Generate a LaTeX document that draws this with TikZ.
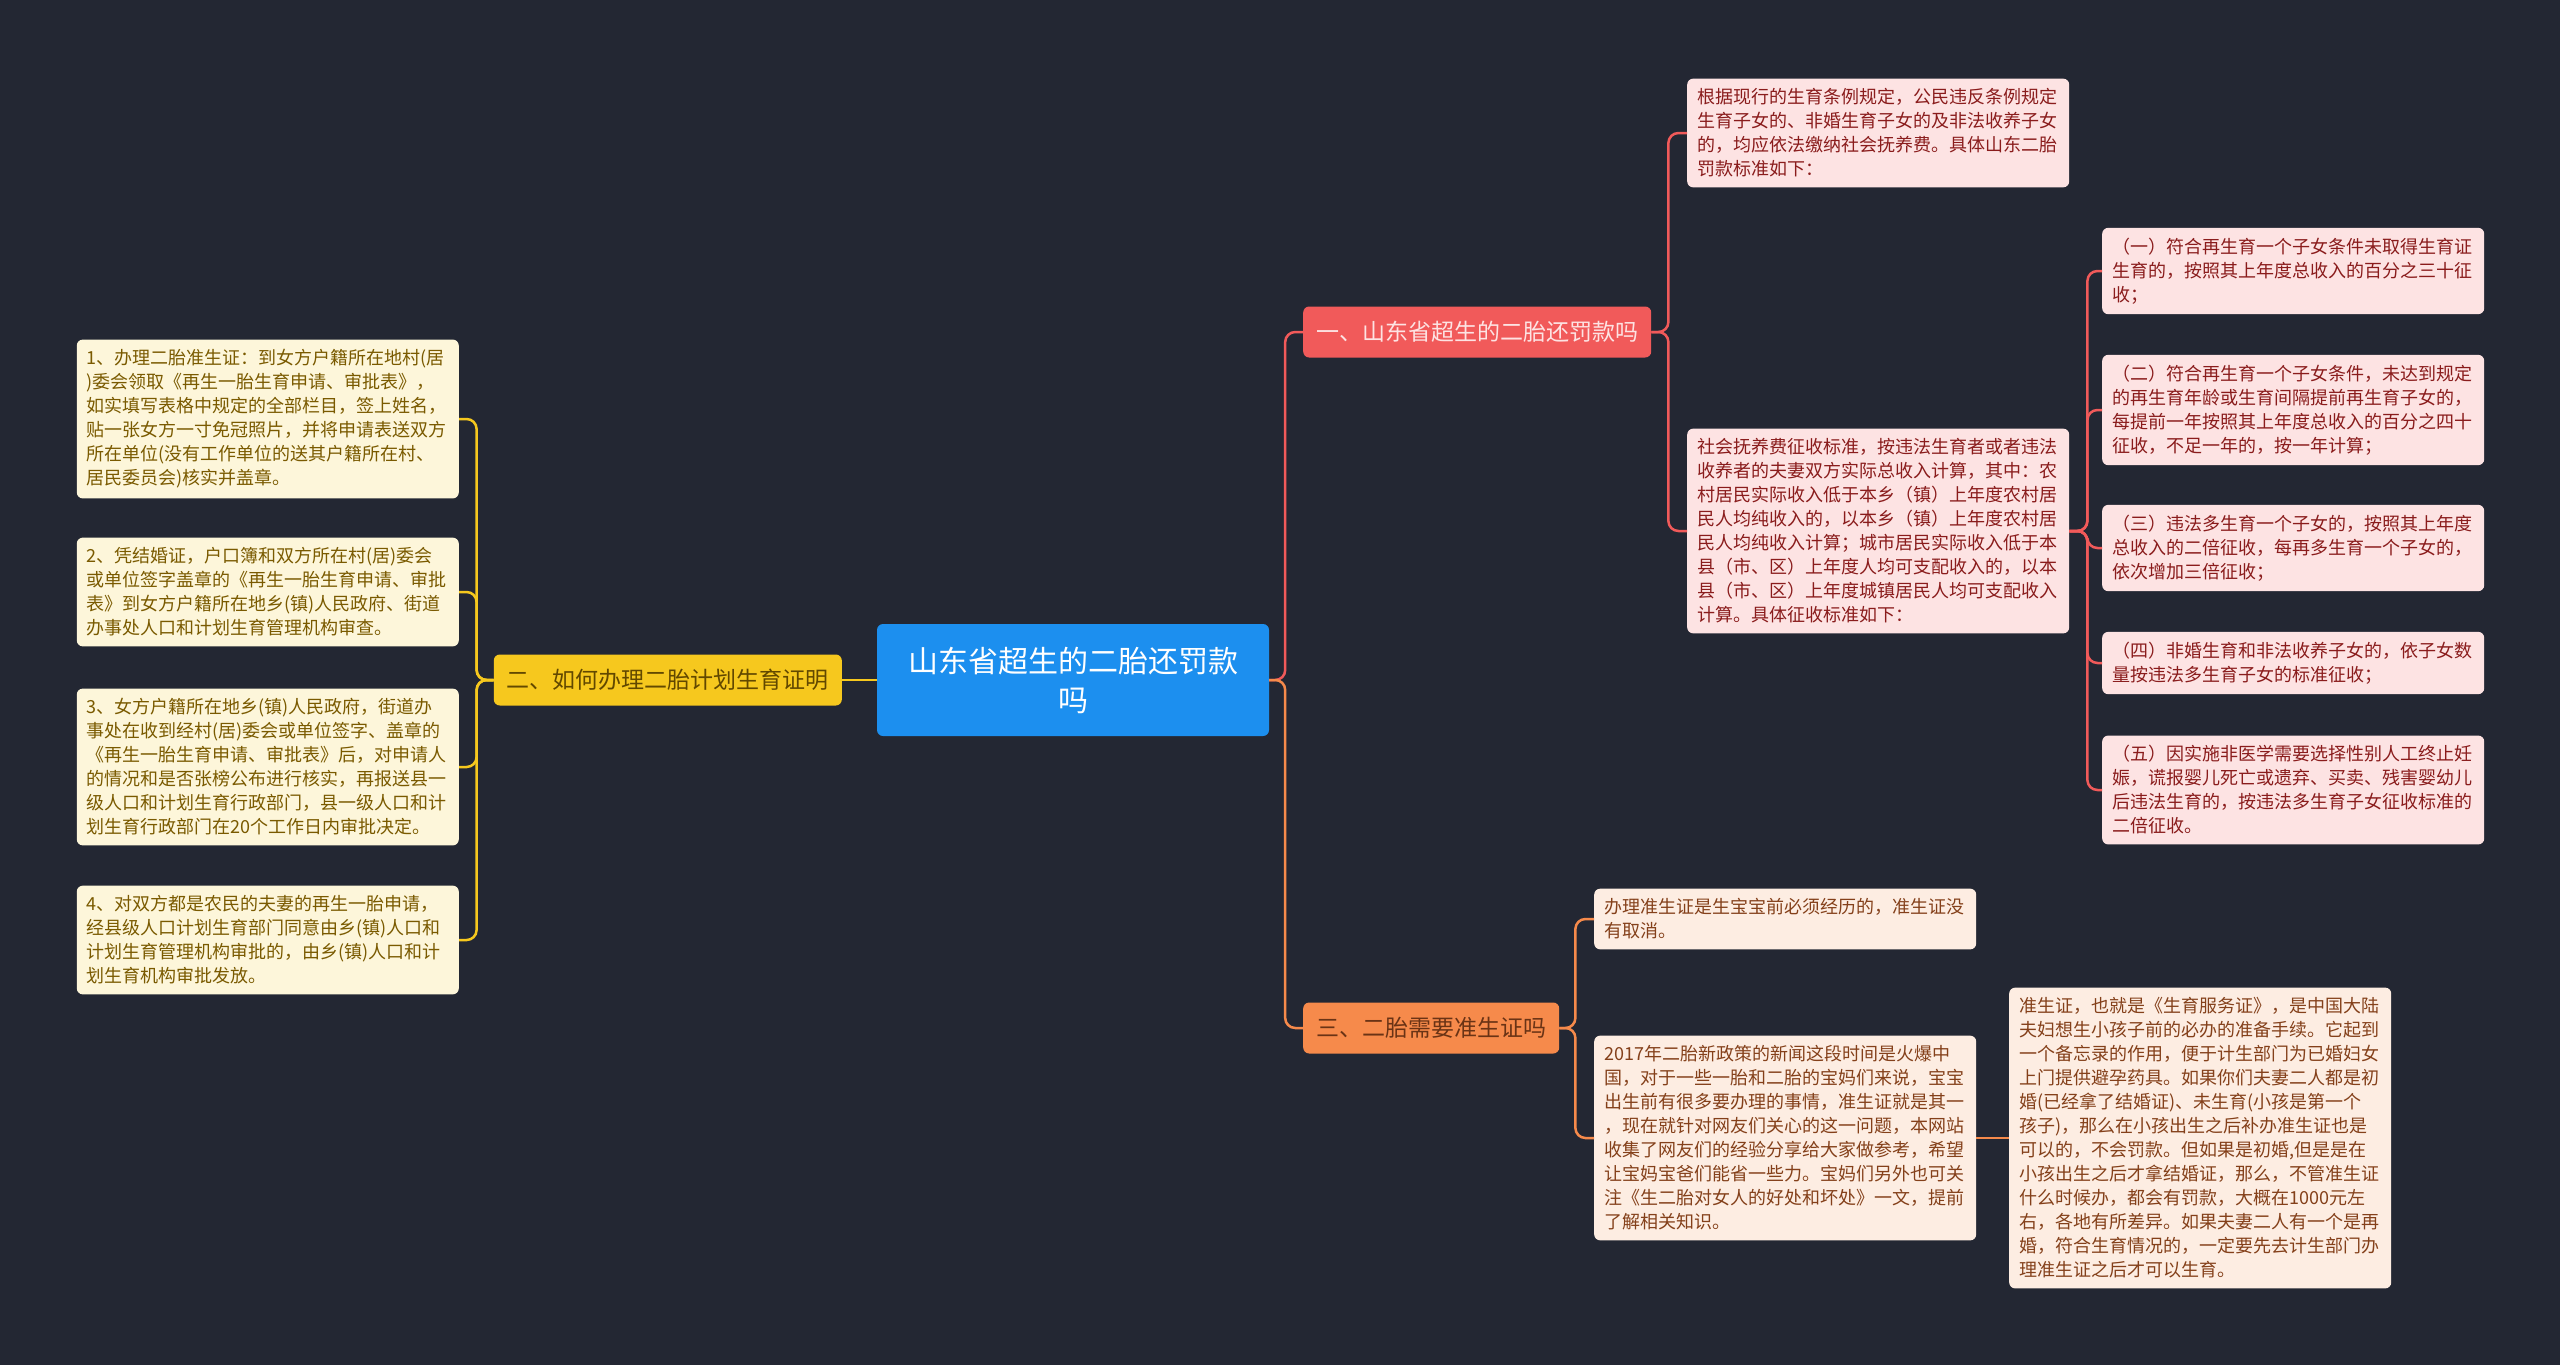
\documentclass[tikz,border=0pt]{standalone}
\usepackage{fontspec}
\setmainfont{Noto Sans CJK SC}
\usepackage{xcolor}
\usetikzlibrary{positioning}

\definecolor{bgdark}{HTML}{232733}
\definecolor{rootblue}{HTML}{1C8FEF}
\definecolor{redmain}{HTML}{F15A5A}
\definecolor{redfill}{HTML}{FDE3E3}
\definecolor{redtext}{HTML}{8A1C1C}
\definecolor{yelmain}{HTML}{F6C81E}
\definecolor{yelfill}{HTML}{FDF6DA}
\definecolor{yeltext}{HTML}{7A5A00}
\definecolor{ormain}{HTML}{F68A4B}
\definecolor{orfill}{HTML}{FDEDE2}
\definecolor{ortext}{HTML}{84401A}

\begin{document}
\begin{tikzpicture}[
  x=1pt, y=1pt,
  leaf/.style={rounded corners=6pt, inner xsep=10pt, inner ysep=10pt, text width=362pt, align=left, font=\fontsize{18}{24}\selectfont},
  redleaf/.style={leaf, fill=redfill, text=redtext},
  yelleaf/.style={leaf, fill=yelfill, text=yeltext},
  orleaf/.style={leaf, fill=orfill, text=ortext},
  branch/.style={rounded corners=6pt, minimum height=51pt, inner xsep=13pt, font=\fontsize{23}{27}\selectfont},
  link/.style={line width=2.5pt, rounded corners=10pt}
]
\useasboundingbox (0,0) rectangle (2560,-1365);
\fill[bgdark] (0,0) rectangle (2560,-1365);

% root and main branches
\node[fill=rootblue, text=white, rounded corners=6pt, minimum width=392pt, minimum height=112pt, align=center, font=\fontsize{30}{39}\selectfont] (root) at (1073,-680) {山东省超生的二胎还罚款\\吗};
\node[branch, fill=redmain, text=redfill, anchor=west] (b1) at (1303,-332) {一、山东省超生的二胎还罚款吗};
\node[branch, fill=yelmain, text=yeltext!80!black, anchor=east] (b2) at (842,-680) {二、如何办理二胎计划生育证明};
\node[branch, fill=ormain, text=ortext!80!black, anchor=west] (b3) at (1303,-1028) {三、二胎需要准生证吗};

% branch one
\node[redleaf, anchor=west] (r1) at (1687,-133) {根据现行的生育条例规定，公民违反条例规定\\生育子女的、非婚生育子女的及非法收养子女\\的，均应依法缴纳社会抚养费。具体山东二胎\\罚款标准如下：};
\node[redleaf, anchor=west] (r2) at (1687,-531) {社会抚养费征收标准，按违法生育者或者违法\\收养者的夫妻双方实际总收入计算，其中：农\\村居民实际收入低于本乡（镇）上年度农村居\\民人均纯收入的，以本乡（镇）上年度农村居\\民人均纯收入计算；城市居民实际收入低于本\\县（市、区）上年度人均可支配收入的，以本\\县（市、区）上年度城镇居民人均可支配收入\\计算。具体征收标准如下：};
\node[redleaf, anchor=west] (s1) at (2102,-271) {（一）符合再生育一个子女条件未取得生育证\\生育的，按照其上年度总收入的百分之三十征\\收；};
\node[redleaf, anchor=west] (s2) at (2102,-410) {（二）符合再生育一个子女条件，未达到规定\\的再生育年龄或生育间隔提前再生育子女的，\\每提前一年按照其上年度总收入的百分之四十\\征收，不足一年的，按一年计算；};
\node[redleaf, anchor=west] (s3) at (2102,-548) {（三）违法多生育一个子女的，按照其上年度\\总收入的二倍征收，每再多生育一个子女的，\\依次增加三倍征收；};
\node[redleaf, anchor=west] (s4) at (2102,-663) {（四）非婚生育和非法收养子女的，依子女数\\量按违法多生育子女的标准征收；};
\node[redleaf, anchor=west] (s5) at (2102,-790) {（五）因实施非医学需要选择性别人工终止妊\\娠，谎报婴儿死亡或遗弃、买卖、残害婴幼儿\\后违法生育的，按违法多生育子女征收标准的\\二倍征收。};

% branch two
\node[yelleaf, anchor=east] (y1) at (459,-419) {1、办理二胎准生证：到女方户籍所在地村(居\\)委会领取《再生一胎生育申请、审批表》，\\如实填写表格中规定的全部栏目，签上姓名，\\贴一张女方一寸免冠照片，并将申请表送双方\\所在单位(没有工作单位的送其户籍所在村、\\居民委员会)核实并盖章。};
\node[yelleaf, anchor=east] (y2) at (459,-592) {2、凭结婚证，户口簿和双方所在村(居)委会\\或单位签字盖章的《再生一胎生育申请、审批\\表》到女方户籍所在地乡(镇)人民政府、街道\\办事处人口和计划生育管理机构审查。};
\node[yelleaf, anchor=east] (y3) at (459,-767) {3、女方户籍所在地乡(镇)人民政府，街道办\\事处在收到经村(居)委会或单位签字、盖章的\\《再生一胎生育申请、审批表》后，对申请人\\的情况和是否张榜公布进行核实，再报送县一\\级人口和计划生育行政部门，县一级人口和计\\划生育行政部门在20个工作日内审批决定。};
\node[yelleaf, anchor=east] (y4) at (459,-940) {4、对双方都是农民的夫妻的再生一胎申请，\\经县级人口计划生育部门同意由乡(镇)人口和\\计划生育管理机构审批的，由乡(镇)人口和计\\划生育机构审批发放。};

% branch three
\node[orleaf, anchor=west] (o1) at (1594,-919) {办理准生证是生宝宝前必须经历的，准生证没\\有取消。};
\node[orleaf, anchor=west] (o2) at (1594,-1138) {2017年二胎新政策的新闻这段时间是火爆中\\国，对于一些一胎和二胎的宝妈们来说，宝宝\\出生前有很多要办理的事情，准生证就是其一\\，现在就针对网友们关心的这一问题，本网站\\收集了网友们的经验分享给大家做参考，希望\\让宝妈宝爸们能省一些力。宝妈们另外也可关\\注《生二胎对女人的好处和坏处》一文，提前\\了解相关知识。};
\node[orleaf, anchor=west] (o3) at (2009,-1138) {准生证，也就是《生育服务证》，是中国大陆\\夫妇想生小孩子前的必办的准备手续。它起到\\一个备忘录的作用，便于计生部门为已婚妇女\\上门提供避孕药具。如果你们夫妻二人都是初\\婚(已经拿了结婚证)、未生育(小孩是第一个\\孩子)，那么在小孩出生之后补办准生证也是\\可以的，不会罚款。但如果是初婚,但是是在\\小孩出生之后才拿结婚证，那么，不管准生证\\什么时候办，都会有罚款，大概在1000元左\\右，各地有所差异。如果夫妻二人有一个是再\\婚，符合生育情况的，一定要先去计生部门办\\理准生证之后才可以生育。};

% connectors
\draw[link, redmain] (root.east) -- ++(16,0) |- (b1.west);
\draw[link, ormain] (root.east) -- ++(16,0) |- (b3.west);
\draw[link, yelmain] (root.west) -- (b2.east);
\foreach \n in {r1,r2}
  \draw[link, redmain] (b1.east) -- ++(17,0) |- (\n.west);
\foreach \n in {s1,s2,s3,s4,s5}
  \draw[link, redmain] (r2.east) -- ++(18,0) |- (\n.west);
\foreach \n in {y1,y2,y3,y4}
  \draw[link, yelmain] (b2.west) -- ++(-17,0) |- (\n.east);
\foreach \n in {o1,o2}
  \draw[link, ormain] (b3.east) -- ++(16,0) |- (\n.west);
\draw[link, ormain] (o2.east) -- (o3.west);
\end{tikzpicture}
\end{document}
